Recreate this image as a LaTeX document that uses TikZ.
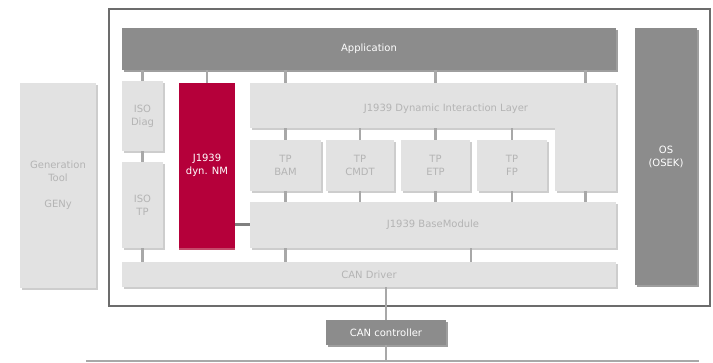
\documentclass[tikz,border=0pt]{standalone}
\usepackage{fontspec}
\setmainfont{DejaVu Sans}
\usetikzlibrary{shadows}

\definecolor{boxgray}{HTML}{E2E2E2}
\definecolor{boxshade}{HTML}{CDCDCD}
\definecolor{boxtext}{HTML}{B4B4B4}
\definecolor{darkgray}{HTML}{8C8C8C}
\definecolor{darkshade}{HTML}{9E9E9E}
\definecolor{nmred}{HTML}{B5003A}
\definecolor{nmshade}{HTML}{C44A6A}
\definecolor{framegray}{HTML}{6C6C6C}
\definecolor{stubgray}{HTML}{A8A8A8}

\begin{document}
\begin{tikzpicture}[
  x=1pt, y=-1pt,
  blk/.style={rectangle, inner sep=0pt, align=center,
              font=\fontsize{10}{13}\selectfont},
  lbox/.style={blk, fill=boxgray, text=boxtext,
               drop shadow={shadow xshift=2pt, shadow yshift=-2pt,
                            fill=boxshade, opacity=1}},
  dbox/.style={blk, fill=darkgray, text=white,
               drop shadow={shadow xshift=2pt, shadow yshift=-2pt,
                            fill=darkshade, opacity=1}},
  rbox/.style={blk, fill=nmred, text=white,
               drop shadow={shadow xshift=0pt, shadow yshift=-2pt,
                            fill=nmshade, opacity=1}},
  stub/.style={draw=stubgray, line width=2.4pt},
  nmlink/.style={draw=gray, line width=3pt}
]
\useasboundingbox (0,0) rectangle (713,363);

%% ═══════════════════════════════════════════════
%% ECU frame
%% ═══════════════════════════════════════════════
\draw[framegray, line width=2.5pt] (109,9) rectangle (710,306);

%% ═══════════════════════════════════════════════
%% Blocks
%% ═══════════════════════════════════════════════
\node[lbox, minimum width=76pt, minimum height=205pt] (gen) at (58,185.5)
     {Generation\\Tool\\[13pt]GENy};

\node[dbox, minimum width=494pt, minimum height=42pt]  (app) at (369,49)    {Application};
\node[dbox, minimum width=62pt,  minimum height=257pt] (os)  at (666,156.5) {OS\\(OSEK)};

\node[lbox, minimum width=41pt, minimum height=70pt] (isodiag) at (142.5,116) {ISO\\Diag};
\node[lbox, minimum width=41pt, minimum height=86pt] (isotp)   at (142.5,205) {ISO\\TP};
\node[rbox, minimum width=56pt, minimum height=165pt] (nm)     at (207,165.5) {J1939\\dyn. NM};

\node[lbox, minimum width=366pt, minimum height=45pt, align=left,
      text height=14.5pt, text depth=2.4pt] (dil) at (433,105.5)
     {\hspace*{26pt}J1939 Dynamic Interaction Layer};
\node[lbox, minimum width=61pt,  minimum height=108pt] (dilr) at (585.5,137) {};

\node[lbox, minimum width=71pt, minimum height=51pt] (tpbam)  at (285.5,165.5) {TP\\BAM};
\node[lbox, minimum width=68pt, minimum height=51pt] (tpcmdt) at (360,165.5)   {TP\\CMDT};
\node[lbox, minimum width=69pt, minimum height=51pt] (tpetp)  at (435.5,165.5) {TP\\ETP};
\node[lbox, minimum width=70pt, minimum height=51pt] (tpfp)   at (512,165.5)   {TP\\FP};

\node[lbox, minimum width=366pt, minimum height=46pt] (base)   at (433,225)   {J1939 BaseModule};
\node[lbox, minimum width=494pt, minimum height=25pt] (candrv) at (369,274.5) {CAN Driver};

\node[dbox, minimum width=120pt, minimum height=25pt] (canctrl) at (386,332.5) {CAN controller};

% CAN bus
\coordinate (busl) at (86,361);
\coordinate (busr) at (699,361);
\draw[stubgray, line width=2.4pt] (busl) -- (busr);

%% ═══════════════════════════════════════════════
%% Connections
%% ═══════════════════════════════════════════════
\draw[stub] (app.south -| isodiag) -- (isodiag.north);
\draw[stub] (app.south -| nm)      -- (nm.north);
\draw[stub] (app.south -| tpbam)   -- (dil.north -| tpbam);
\draw[stub] (app.south -| tpetp)   -- (dil.north -| tpetp);
\draw[stub] (app.south -| dilr)    -- (dilr.north);
\draw[stub] (isodiag.south) -- (isotp.north);

\foreach \tp in {tpbam,tpcmdt,tpetp,tpfp} {
  \draw[stub] (dil.south -| \tp) -- (\tp.north);
  \draw[stub] (\tp.south) -- (base.north -| \tp);
}
\draw[stub] (dilr.south) -- (base.north -| dilr);

\draw[nmlink] (nm.east |- base.west) -- (base.west);

\draw[stub] (isotp.south) -- (candrv.north -| isotp);
\draw[stub] (base.south -| tpbam) -- (candrv.north -| tpbam);
\draw[stub] ([xshift=38pt]base.south) -- ([xshift=38pt]base.south |- candrv.north);

\draw[stub] (candrv.south -| canctrl) -- (canctrl.north);
\draw[stub] (canctrl.south) -- (canctrl.south |- busl);

\end{tikzpicture}
\end{document}
